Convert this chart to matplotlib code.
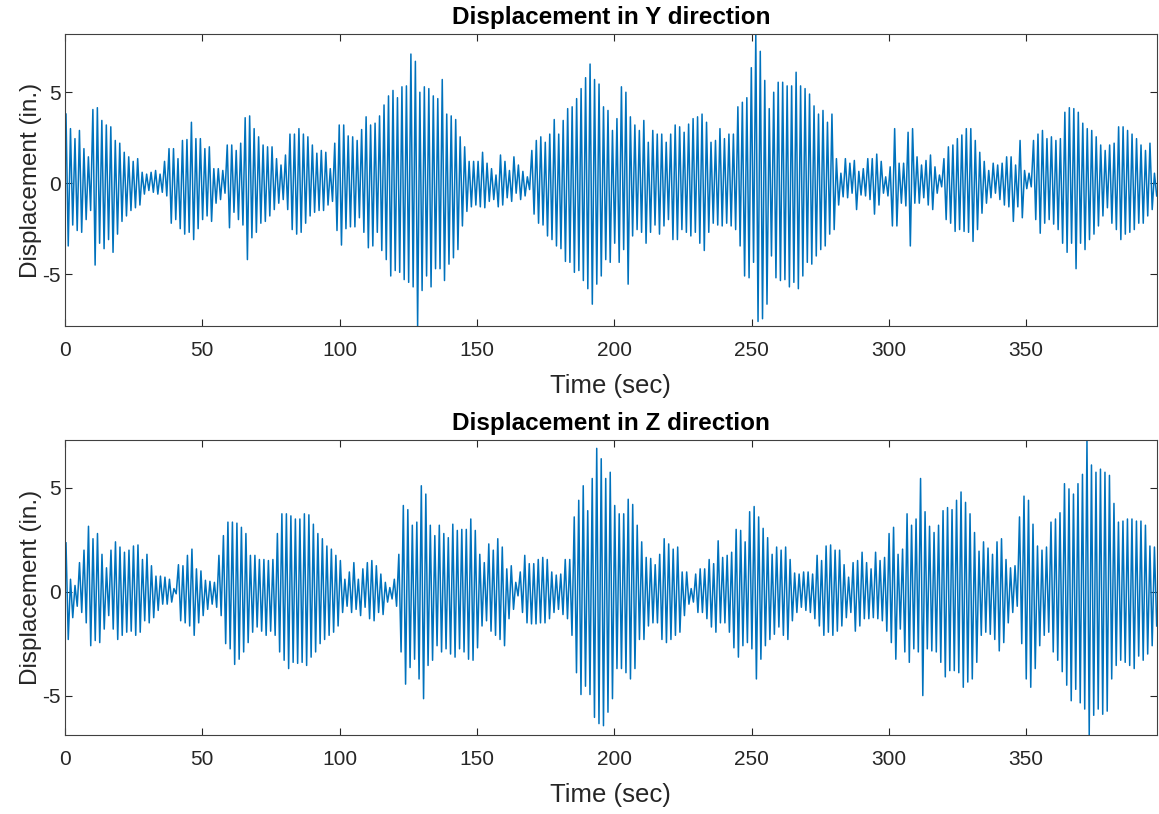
import numpy as np
import matplotlib.pyplot as plt

plt.rcParams['font.family'] = ['Liberation Sans', 'DejaVu Sans']
plt.rcParams['axes.unicode_minus'] = False

# peak amplitudes, one value per oscillation cycle
# (hi = positive peak, lo = magnitude of the negative peak)
y_hi = [3.8, 3.0, 2.45, 2.9, 1.9, 1.45, 4.05, 4.15, 3.45, 3.2, 3.1, 2.35, 2.2, 1.7, 1.45, 1.2, 1.35,
        0.6, 0.5, 0.6, 0.7, 0.5,
        1.2, 1.9, 1.9, 1.35, 2.35, 2.4, 3.35, 2.45, 2.45, 1.9,
        2.0, 0.8, 0.8, 0.7, 2.1, 2.1, 1.8, 2.2, 3.6, 3.7,
        3.0, 2.55, 2.1, 2.0, 2.0, 1.35, 1.0, 1.55, 2.7, 2.7,
        3.0, 2.7, 2.55, 2.1, 1.65, 1.8, 1.7,
        0.8, 2.2, 3.2, 3.2, 2.6, 2.55, 2.35, 2.95, 3.65, 3.2,
        3.3, 3.7, 4.3, 4.8, 5.1, 4.7, 5.3, 5.35, 7.1, 6.7,
        5.0, 5.3, 5.2, 4.8, 4.65, 5.7, 3.8, 3.7, 3.5, 2.55,
        2.0, 1.2, 1.2, 1.2, 1.7, 1.1, 0.8, 0.45, 1.55, 1.2,
        0.7, 1.45, 1.0, 0.65, 0.35, 1.8, 2.35, 2.55, 2.25, 2.7,
        3.5, 2.7, 3.45, 4.1, 4.2, 4.65, 5.2, 5.8, 6.55, 5.7, 5.45,
        4.2, 4.0, 2.9, 3.55, 5.3, 5.0, 3.65, 3.2, 2.9, 3.45,
        2.25, 2.9, 2.7, 2.7, 2.25, 2.7, 3.2, 3.1, 2.8, 3.25,
        3.55, 3.65, 3.8, 3.35, 2.25, 2.35, 3.0, 2.45, 2.7, 2.7,
        4.2, 4.45, 4.7, 6.35, 8.2, 7.25, 5.65, 4.1, 5.0, 5.55,
        5.55, 5.35, 5.35, 6.1, 5.35, 5.2, 4.9, 4.25, 3.8, 4.0,
        3.35, 3.8, 1.35, 0.55, 1.35, 1.1, 1.25, 0.65, 0.8, 1.35,
        1.35, 1.6, 1.2, 0.35, 0.9, 3.0, 1.1, 1.1, 2.8,
        3.0, 1.45, 1.0, 1.25, 1.55, 0.9, 0.45, 1.35, 2.0, 2.1,
        2.45, 2.65, 3.0, 3.0, 2.35, 1.7, 1.2, 0.7, 1.1, 1.0,
        1.1, 1.45, 1.45, 1.0, 2.35, 0.7, 0.55, 2.35, 2.7,
        2.9, 2.45, 2.55, 2.35, 2.45, 3.9, 4.15, 4.1, 3.9, 3.3,
        3.0, 2.9, 2.55, 2.1, 1.8, 2.1, 2.2, 3.1, 3.1, 2.9,
        2.7, 2.45, 2.1, 1.8, 2.2, 0.55]
y_lo = [3.45, 2.3, 2.6, 2.7, 2.0, 1.5, 4.5, 3.3, 3.6, 3.1, 3.8, 2.8, 2.1, 1.8, 1.5, 1.35, 1.2,
        0.6, 0.4, 0.5, 0.6, 0.5,
        0.7, 2.2, 2.0, 2.5, 2.8, 2.7, 3.1, 2.5, 2.0, 1.8,
        2.1, 1.1, 0.9, 0.55, 2.45, 1.6, 2.0, 2.3, 4.2, 3.0,
        2.7, 2.2, 2.1, 1.8, 1.45, 1.1, 0.9, 1.45, 2.55, 2.8,
        2.7, 2.2, 1.8, 1.6, 1.5, 1.5, 1.2,
        1.0, 2.6, 3.4, 2.5, 2.4, 2.4, 1.9, 2.7, 3.55, 3.45,
        2.7, 3.7, 4.2, 5.1, 4.8, 4.9, 5.3, 5.45, 5.7, 7.85,
        5.9, 5.1, 5.7, 4.7, 4.7, 5.35, 4.45, 4.1, 3.65, 2.35,
        1.55, 1.3, 1.2, 1.3, 1.35, 1.0, 0.9, 1.3, 1.2, 0.8,
        1.0, 0.55, 0.9, 0.7, 0.35, 1.7, 2.2, 2.3, 2.9, 3.1,
        3.45, 3.6, 4.3, 4.35, 4.9, 4.8, 5.35, 5.8, 6.65, 5.55, 5.1,
        4.2, 4.35, 3.3, 4.35, 3.65, 5.55, 2.9, 2.55, 2.7, 3.3,
        2.7, 2.3, 2.8, 2.35, 2.0, 3.1, 3.1, 2.55, 2.7, 2.9,
        2.7, 3.3, 3.7, 2.7, 2.2, 2.3, 2.35, 2.2, 2.35, 2.55,
        3.45, 5.1, 5.2, 4.35, 7.6, 7.45, 6.65, 4.0, 5.2, 5.35,
        5.3, 5.7, 5.45, 5.8, 5.1, 4.35, 4.45, 4.0, 3.65, 3.45,
        2.8, 2.55, 1.2, 0.75, 0.8, 0.55, 1.45, 0.65, 0.7, 0.9,
        1.7, 1.2, 0.55, 0.7, 2.35, 2.35, 1.1, 1.25, 3.45,
        1.1, 1.1, 0.8, 1.2, 1.45, 0.55, 0.2, 2.0, 2.2, 2.65,
        2.55, 2.65, 2.7, 3.2, 2.55, 1.65, 1.1, 0.8, 0.55, 0.9,
        1.2, 1.3, 2.1, 1.3, 1.9, 0.3, 0.2, 2.0, 2.75,
        2.2, 2.0, 2.25, 2.55, 3.3, 3.8, 3.3, 4.7, 3.3, 3.65,
        3.1, 2.8, 2.35, 1.8, 1.35, 2.2, 2.55, 3.1, 2.8, 2.7,
        2.55, 2.2, 2.2, 1.8, 1.45, 0.7]

z_hi = [2.35, 0.6, 0.3, 1.4, 2.0, 3.15, 2.55, 2.8, 1.8, 1.15,
        2.0, 2.4, 2.15, 1.9, 2.0, 2.2, 2.25, 1.55, 1.8, 1.25,
        0.75, 0.75, 0.7, 0.6, 0.15, 1.3, 1.25, 1.75, 2.05, 1.1,
        1.0, 0.55, 0.5, 0.45, 1.75, 2.7, 3.35, 3.35, 3.3, 3.1,
        2.8, 1.75, 1.75, 1.55, 1.55, 1.5, 1.55, 2.8, 3.75, 3.75,
        3.65, 3.5, 3.5, 3.75, 3.7, 3.25, 2.8, 2.55, 2.2, 2.05,
        1.75, 1.5,
        0.6, 0.95, 1.4, 0.6, 1.1, 1.4, 1.5, 1.25, 0.85, 0.45,
        0.2, 0.6, 1.8, 4.15, 3.95, 3.2, 3.35, 5.1, 4.7, 3.2,
        2.7, 3.2, 2.8, 2.6, 3.25, 2.95, 3.0, 3.0, 3.5, 2.95,
        1.8, 1.4, 2.3, 2.0, 2.55, 2.15, 1.1, 1.25, 0.45, 0.95,
        1.75, 1.35, 1.35, 1.55, 1.65, 1.55, 0.95, 0.8, 0.85, 1.55,
        1.55, 3.6, 4.4, 5.1, 3.9, 5.45, 6.9, 6.4, 5.45, 5.75,
        4.15, 3.75, 3.75, 4.45, 4.2, 3.2, 2.4, 1.65, 1.6, 1.3,
        1.8, 2.55, 2.3, 2.05, 2.15, 0.95, 0.95, 0.15, 0.85, 1.1,
        1.1, 1.55, 1.35, 2.45, 1.65, 1.75, 1.9, 3.0, 2.95, 2.4,
        3.85, 4.1, 3.6, 3.05, 2.6, 1.8, 2.15, 2.0, 2.15, 1.55,
        0.9, 0.85, 0.95, 0.95, 0.85, 1.75, 1.5, 2.2, 2.25, 2.0,
        2.0, 1.3, 0.7, 1.4, 1.5, 1.9, 1.4, 1.1, 1.9,
        1.5, 1.65, 2.8, 3.1, 1.8, 2.05, 3.75, 3.2, 3.5,
        5.45, 3.85, 3.15, 2.85, 3.2, 3.9, 4.05, 3.95, 4.4, 4.8,
        4.3, 3.75, 2.85, 1.95, 2.4, 2.1, 1.8, 2.4, 2.55, 1.55,
        1.15, 1.25, 3.6, 4.6, 4.4, 3.25, 2.2, 2.0, 2.15, 3.35,
        3.5, 3.8, 5.2, 4.95, 4.7, 5.2, 5.65, 7.3, 6.1, 5.75,
        5.9, 5.75, 5.6, 4.25, 3.35, 3.4, 3.5, 3.5, 3.4, 3.4,
        3.2, 2.2, 2.15]
z_lo = [2.3, 1.25, 0.7, 1.0, 1.5, 2.6, 2.35, 2.45, 1.8, 1.15,
        1.8, 2.3, 2.1, 1.95, 1.9, 2.1, 1.95, 1.4, 1.5, 1.25,
        0.9, 0.6, 0.6, 0.5, 0.1, 1.4, 1.5, 1.65, 2.1, 1.5,
        1.15, 0.85, 0.6, 0.75, 1.15, 2.5, 2.75, 3.5, 3.25, 2.9,
        2.45, 1.95, 1.7, 1.9, 2.1, 1.9, 2.1, 2.9, 3.3, 3.7,
        3.4, 3.45, 3.4, 3.55, 3.15, 2.9, 2.5, 2.3, 2.1, 1.95,
        1.65, 1.0,
        0.7, 1.0, 0.85, 1.15, 0.75, 1.3, 1.4, 1.0, 1.1, 0.5,
        0.35, 0.7, 2.9, 4.45, 3.65, 3.25, 4.2, 5.15, 3.55, 3.3,
        2.6, 2.9, 2.75, 3.0, 3.15, 2.75, 2.9, 3.25, 3.3, 2.7,
        1.65, 1.4, 1.9, 2.1, 2.3, 2.6, 1.3, 0.85, 0.2, 1.0,
        1.5, 1.55, 1.55, 1.5, 1.5, 1.3, 1.0, 0.85, 1.1, 1.3,
        2.1, 3.9, 4.95, 4.55, 4.95, 6.05, 6.35, 6.45, 5.8, 5.15,
        3.7, 3.7, 3.9, 4.2, 3.7, 2.3, 2.3, 1.65, 1.5, 1.5,
        2.3, 2.45, 2.3, 2.1, 1.95, 1.15, 0.6, 0.5, 1.0, 1.0,
        1.3, 1.7, 1.95, 1.5, 1.5, 1.95, 2.7, 3.15, 2.6, 2.45,
        2.75, 4.2, 3.25, 2.6, 2.3, 2.05, 1.7, 2.1, 2.3, 1.4,
        1.0, 0.75, 0.9, 1.0, 1.3, 1.65, 2.1, 1.95, 2.1, 1.9,
        1.65, 1.25, 1.0, 1.9, 1.65, 1.3, 1.3, 1.25, 1.3,
        1.4, 1.9, 2.45, 3.25, 1.8, 2.9, 3.4, 2.75, 2.9,
        5.0, 2.75, 2.85, 2.9, 3.4, 4.1, 3.8, 3.8, 3.9, 4.6,
        4.35, 4.2, 3.4, 2.1, 1.95, 2.05, 2.3, 2.85, 2.45, 1.5,
        1.0, 0.7, 2.5, 4.2, 4.6, 3.7, 2.6, 2.1, 1.95, 2.9,
        3.3, 3.85, 4.5, 5.25, 4.7, 5.35, 5.65, 6.9, 5.95, 5.65,
        5.9, 5.75, 4.2, 3.55, 3.3, 3.4, 3.55, 3.7, 3.1, 3.3,
        3.0, 2.6, 1.65]

t_start = 0.4
t_end = 397.5
x_ticks = [0, 50, 100, 150, 200, 250, 300, 350]
y_ticks = [-5, 0, 5]


def build_signal(hi, lo):
    # alternate positive and negative peaks over the record length
    n = len(hi)
    step = (t_end - t_start) / (n - 0.5)
    t_hi = t_start + step * np.arange(n)
    t = np.empty(2 * n)
    y = np.empty(2 * n)
    t[0::2] = t_hi
    t[1::2] = t_hi + step / 2
    y[0::2] = hi
    y[1::2] = -np.asarray(lo)
    return t, y


fig = plt.figure(figsize=(11.59, 8.14), dpi=100)
ax1 = fig.add_axes([0.056, 0.5995, 0.942, 0.3587])
ax2 = fig.add_axes([0.056, 0.097, 0.942, 0.3624])

for ax, hi, lo, title in [(ax1, y_hi, y_lo, 'Displacement in Y direction'),
                          (ax2, z_hi, z_lo, 'Displacement in Z direction')]:
    t, y = build_signal(hi, lo)
    ax.plot(t, y, color='#0072BD', lw=1.1)
    ax.set_xlim(0, t.max())
    ax.set_ylim(y.min(), y.max())
    ax.set_xticks(x_ticks)
    ax.set_yticks(y_ticks)
    ax.tick_params(direction='in', top=True, right=True, length=5,
                   labelsize=15, colors='#262626', width=0.8)
    ax.tick_params(axis='x', pad=11)
    ax.tick_params(axis='y', pad=3)
    for s in ax.spines.values():
        s.set_color('#404040')
        s.set_linewidth(0.8)
    ax.set_xlabel('Time (sec)', fontsize=18.5, color='#262626', labelpad=10)
    ax.set_ylabel('Displacement (in.)', fontsize=17.5, color='#262626', labelpad=0)
    ax.set_title(title, fontsize=17.5, fontweight='bold', pad=7)

fig.savefig('out.png', dpi=100)
